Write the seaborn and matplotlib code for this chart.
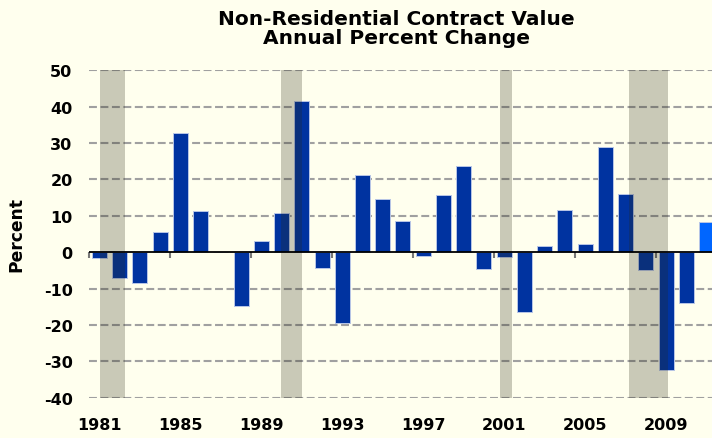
import pandas as pd
import matplotlib
matplotlib.use("Agg")
import matplotlib.pyplot as plt
import seaborn as sns

# -----------------------
# DATA
# -----------------------
years = list(range(1981, 2012))
pct_change = [-1.7, -7.2, -8.5, 5.5, 32.8, 11.4, 0.0, -14.7, 3.0, 10.7,
              41.6, -4.4, -19.4, 21.1, 14.7, 8.5, -1.1, 15.7, 23.7, -4.6,
              -1.2, -16.4, 1.8, 11.6, 2.3, 29.0, 15.9, -4.9, -32.4, -14.1,
              8.3]
kind = ["actual"] * 30 + ["latest"]

# recessions, in the chart's year units
rec_start = [1981.05, 1989.99, 2000.8, 2007.17]
rec_end = [1982.28, 1991.0, 2001.4, 2009.08]

tick_years = [1981, 1985, 1989, 1993, 1997, 2001, 2005, 2009]
edge_ticks = [1980.5, 1984.5, 1988.5, 1992.5, 1996.5, 2000.5, 2004.5, 2008.5]
y_ticks = [-40, -30, -20, -10, 0, 10, 20, 30, 40, 50]

df = pd.DataFrame({"year": years, "pct": pct_change, "kind": kind})

BG = "#FFFFEE"
BAR = "#0033A0"
BAR_LAST = "#0066FF"

sns.set_style("white")
plt.rcParams["font.family"] = ["DejaVu Sans"]
plt.rcParams["font.weight"] = "bold"
plt.rcParams["text.color"] = "black"
plt.rcParams["axes.labelcolor"] = "black"
plt.rcParams["xtick.color"] = "black"
plt.rcParams["ytick.color"] = "black"
plt.rcParams["axes.unicode_minus"] = False

fig = plt.figure(figsize=(7.12, 4.39), dpi=100, facecolor=BG)
ax = fig.add_axes([0.1243, 0.0918, 0.8757, 0.7458])
ax.set_facecolor(BG)

# -----------------------
# GRID
# -----------------------
for v in y_ticks:
    if v != 0:
        ax.axhline(v, color="#a0a0a0", lw=1.5, ls=(0, (3.8, 1.7)), zorder=0)

# -----------------------
# BARS
# -----------------------
sns.barplot(data=df, x="year", y="pct", hue="kind",
            palette={"actual": BAR, "latest": BAR_LAST}, saturation=1,
            native_scale=True, dodge=False, width=0.74, legend=False,
            edgecolor="#b8c6e6", linewidth=0.7, zorder=2, ax=ax)

# recession shading on top of bars
for s, e in zip(rec_start, rec_end):
    ax.axvspan(s, e, color="#282814", alpha=0.25, lw=0, zorder=3)

ax.axhline(0, color="black", lw=1.3, zorder=4)

# small tick marks on the zero line
sec = ax.secondary_xaxis((0 - y_ticks[0]) / (y_ticks[-1] - y_ticks[0]))
sec.set_xticks(edge_ticks)
sec.set_xticklabels([])
sec.tick_params(axis="x", length=4, width=1.5, color="#777777", direction="out")
sec.spines["bottom"].set_visible(False)

# -----------------------
# AXES
# -----------------------
ax.set_xlim(1980.46, 2011.27)
ax.set_ylim(-40, 50)
ax.set_xticks(tick_years)
ax.set_xticklabels([str(t) for t in tick_years])
ax.set_yticks(y_ticks)
ax.tick_params(axis="both", length=0, labelsize=11.5, labelcolor="black")
ax.tick_params(axis="y", pad=11.5)
ax.tick_params(axis="x", pad=14)
for sp in ax.spines.values():
    sp.set_visible(False)

ax.set_xlabel("")
ax.set_ylabel("Percent", fontsize=12.3, fontweight="bold", color="black")
ax.yaxis.set_label_coords(-0.102, 0.5)

fig.text(0.557, 0.978, "Non-Residential Contract Value\nAnnual Percent Change",
         ha="center", va="top", fontsize=14.5, fontweight="bold",
         linespacing=1.02, color="black")

fig.savefig("out.png", dpi=100, facecolor=BG)
